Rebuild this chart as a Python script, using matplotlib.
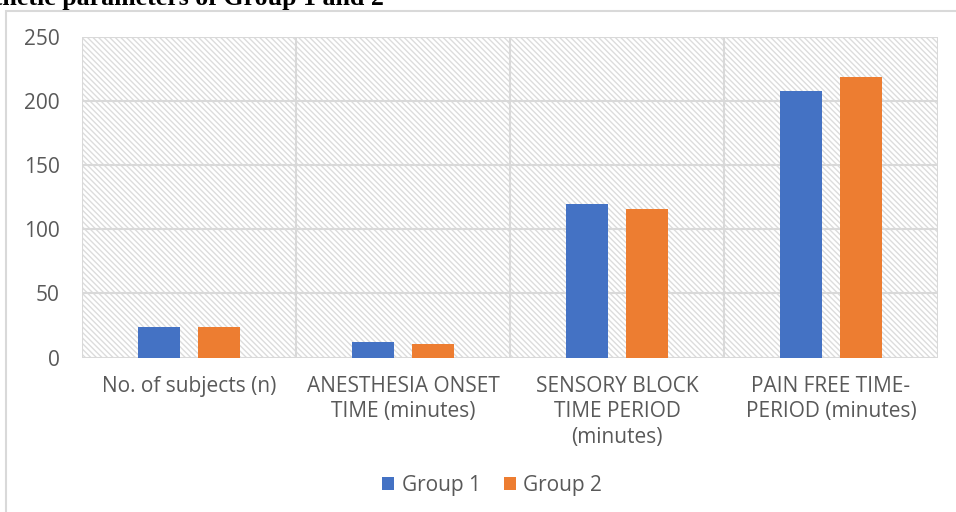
import matplotlib
matplotlib.use("Agg")
import matplotlib.pyplot as plt
from matplotlib.patches import Rectangle
import numpy as np

categories = [
    "No. of subjects (n)",
    "ANESTHESIA ONSET\nTIME (minutes)",
    "SENSORY BLOCK\nTIME PERIOD\n(minutes)",
    "PAIN FREE TIME-\nPERIOD (minutes)",
]
group1 = [24, 12, 120, 208]
group2 = [24, 10.5, 116, 219]
series_names = ["Group 1", "Group 2"]
yticks = [0, 50, 100, 150, 200, 250]
title = "Anesthetic parameters of Group 1 and 2"

BLUE = "#4472C4"
ORANGE = "#ED7D31"
GRID = "#d9d9d9"
TEXT = "#595959"

plt.rcParams["font.family"] = ["Open Sans", "DejaVu Sans"]
plt.rcParams["hatch.color"] = "#dcdcdc"
plt.rcParams["hatch.linewidth"] = 1.0

W, H = 956, 512
fig = plt.figure(figsize=(W / 100, H / 100), dpi=100)
fig.patch.set_facecolor("white")

# outer chart frame (runs off the right and bottom edges)
fig.patches.append(Rectangle((6 / W, -0.1), 1.2, (H - 11) / H + 0.1,
                             transform=fig.transFigure, fill=False,
                             edgecolor=GRID, linewidth=1.5, zorder=0))

# title, partly cut off at the top-left
fig.text(384 / W, 1 - 5 / H, title, ha="right", va="baseline",
         fontsize=18.6, fontweight="bold", family="Liberation Serif",
         color="black")

left, right = 82 / W, 938 / W
bottom, top = 1 - 357.5 / H, 1 - 37.3 / H
ax = fig.add_axes([left, bottom, right - left, top - bottom])
ax.set_facecolor("white")

# hatched plot-area background
ax.add_patch(Rectangle((0, 0), 1, 1, transform=ax.transAxes,
                       facecolor="white", edgecolor="#dcdcdc",
                       hatch="\\" * 6, linewidth=0, zorder=0))

x = np.arange(len(categories))
bw = 0.196
off = 0.139
ax.bar(x - off, group1, bw, color=BLUE, label=series_names[0], zorder=3)
ax.bar(x + off, group2, bw, color=ORANGE, label=series_names[1], zorder=3)

ax.set_xlim(-0.5, len(categories) - 0.5)
ax.set_ylim(0, 250)
ax.set_yticks(yticks)
ax.set_yticklabels([str(v) for v in yticks])

for y in yticks:
    ax.axhline(y, color=GRID, linewidth=1.5, zorder=1)
for xv in np.arange(-0.5, len(categories), 1.0):
    ax.axvline(xv, color=GRID, linewidth=1.5, zorder=1)

for s in ax.spines.values():
    s.set_visible(False)

ax.tick_params(axis="both", length=0, labelsize=15, labelcolor=TEXT)
ax.tick_params(axis="y", pad=16)
ax.set_xticks(x)
ax.set_xticklabels(categories, linespacing=1.3)
ax.tick_params(axis="x", pad=13)

leg = fig.legend(loc="center", bbox_to_anchor=(492 / W, 1 - 485 / H),
                 ncol=2, frameon=False, fontsize=15, handlelength=0.6,
                 handleheight=0.6, handletextpad=0.35, columnspacing=1.1)
for t in leg.get_texts():
    t.set_color(TEXT)

fig.savefig("out.png", dpi=100)
